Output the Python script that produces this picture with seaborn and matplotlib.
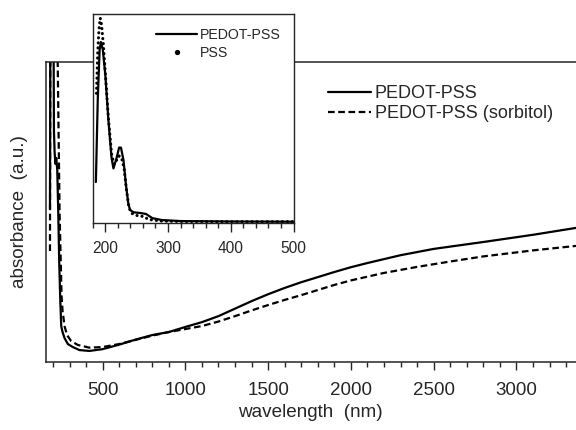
import numpy as np
import pandas as pd
import matplotlib
matplotlib.use("Agg")
import matplotlib.pyplot as plt
from matplotlib.lines import Line2D
from matplotlib.ticker import MultipleLocator
import seaborn as sns

# main spectrum (wavelength in nm, absorbance in a.u.)
wl_pedot = [182, 186, 200, 206, 210, 215, 220, 226, 232, 238, 244, 250, 258, 270, 290,
            320, 360, 420, 500, 600, 700, 800, 900, 1000, 1100, 1200, 1300, 1400, 1500,
            1600, 1700, 1800, 1900, 2000, 2100, 2200, 2300, 2500, 2800, 3100, 3360]
abs_pedot = [0.51, 1.6, 1.6, 0.77, 0.70, 0.66, 0.68, 0.64, 0.50, 0.33, 0.21, 0.12, 0.10,
             0.08, 0.06, 0.05, 0.04, 0.037, 0.043, 0.058, 0.075, 0.09, 0.10, 0.117, 0.133,
             0.153, 0.178, 0.203, 0.226, 0.247, 0.266, 0.283, 0.30, 0.316, 0.33, 0.343,
             0.356, 0.377, 0.40, 0.424, 0.447]

wl_sorb = [182, 186, 215, 240, 252, 258, 263, 270, 285, 310, 350, 420, 500, 600, 700,
           800, 900, 1000, 1100, 1200, 1300, 1400, 1500, 1600, 1700, 1800, 1900, 2000,
           2200, 2400, 2600, 2800, 3100, 3360]
abs_sorb = [0.37, 1.6, 1.6, 0.5, 0.22, 0.17, 0.15, 0.12, 0.09, 0.07, 0.057, 0.048, 0.05,
            0.06, 0.074, 0.088, 0.10, 0.11, 0.12, 0.135, 0.153, 0.172, 0.19, 0.207, 0.223,
            0.24, 0.257, 0.272, 0.297, 0.317, 0.335, 0.352, 0.372, 0.387]

# inset: UV region
wl_in_pedot = [185, 188, 191, 193, 196, 200, 205, 210, 213, 218, 222, 225, 229, 233, 237,
               240, 245, 255, 265, 275, 290, 320, 400, 500]
abs_in_pedot = [0.195, 0.59, 0.83, 0.866, 0.83, 0.71, 0.49, 0.31, 0.26, 0.31, 0.36, 0.36,
                0.30, 0.18, 0.085, 0.06, 0.05, 0.047, 0.042, 0.022, 0.013, 0.008, 0.006, 0.005]
wl_in_pss = [186, 188, 190, 192, 194, 197, 200, 205, 210, 214, 218, 222, 226, 230, 234,
             238, 242, 250, 260, 270, 290, 320, 400, 500]
abs_in_pss = [0.62, 0.82, 0.93, 0.98, 0.95, 0.85, 0.72, 0.50, 0.33, 0.28, 0.30, 0.32, 0.31,
              0.26, 0.15, 0.07, 0.045, 0.035, 0.03, 0.015, 0.008, 0.006, 0.005, 0.005]

sns.set_style("ticks")
plt.rcParams['font.family'] = ['Liberation Sans', 'DejaVu Sans']

fig = plt.figure(figsize=(5.76, 4.30), dpi=100)
ax = fig.add_axes([0.079, 0.158, 0.921, 0.698])

sns.lineplot(x=wl_pedot, y=abs_pedot, ax=ax, color='black', lw=1.6, errorbar=None)
sns.lineplot(x=wl_sorb, y=abs_sorb, ax=ax, color='black', lw=1.6, errorbar=None,
             linestyle=(0, (3, 1.6)))
ax.set_xlim(155, 3360)
ax.set_ylim(0, 1)
ax.set_yticks([])
ax.xaxis.set_major_locator(MultipleLocator(500))
ax.xaxis.set_minor_locator(MultipleLocator(100))
ax.tick_params(axis='x', which='major', length=6, width=1, direction='out',
               labelsize=13.5, pad=8)
ax.tick_params(axis='x', which='minor', length=3.6, width=1, direction='out')
ax.spines['right'].set_visible(False)
for s in ['left', 'bottom', 'top']:
    ax.spines[s].set_linewidth(1.1)
ax.set_xlabel('wavelength  (nm)', fontsize=13.6, labelpad=4)
ax.set_ylabel('absorbance  (a.u.)', fontsize=13.6)
ax.yaxis.set_label_coords(-0.033, 0.5)

main_handles = [Line2D([], [], color='black', lw=1.6),
                Line2D([], [], color='black', lw=1.6, linestyle=(0, (3, 1.6)))]
ax.legend(main_handles, ['PEDOT-PSS', 'PEDOT-PSS (sorbitol)'], frameon=False,
          loc='center left', bbox_to_anchor=(0.569, 0.759), bbox_transform=fig.transFigure,
          fontsize=13.0, handlelength=2.4, handletextpad=0.2, labelspacing=0.2,
          borderpad=0, borderaxespad=0)

# inset
axi = fig.add_axes([0.161, 0.482, 0.3486, 0.4854])
axi.set_facecolor('white')
sns.lineplot(x=wl_in_pedot, y=abs_in_pedot, ax=axi, color='black', lw=1.6, errorbar=None)
sns.lineplot(x=wl_in_pss, y=abs_in_pss, ax=axi, color='black', lw=2.2, errorbar=None,
             linestyle=(0, (0.05, 1.6)), dash_capstyle='round')
axi.set_xlim(180, 500)
axi.set_ylim(0, 1)
axi.set_yticks([])
axi.xaxis.set_major_locator(MultipleLocator(100))
axi.xaxis.set_minor_locator(MultipleLocator(20))
axi.tick_params(axis='x', which='major', length=6.5, width=1, direction='out',
                labelsize=11.2, pad=7)
axi.tick_params(axis='x', which='minor', length=3.6, width=1, direction='out')
for s in axi.spines.values():
    s.set_linewidth(1.0)
    s.set_visible(True)

inset_handles = [Line2D([], [], color='black', lw=1.6),
                 Line2D([], [], color='black', marker='o', markersize=2.8, linestyle='none')]
axi.legend(inset_handles, ['PEDOT-PSS', 'PSS'], frameon=False,
           loc='center left', bbox_to_anchor=(0.271, 0.898), bbox_transform=fig.transFigure,
           fontsize=10.2, handlelength=2.9, handletextpad=0.2, labelspacing=0.25,
           borderpad=0, borderaxespad=0)

fig.savefig('out.png', dpi=100)
